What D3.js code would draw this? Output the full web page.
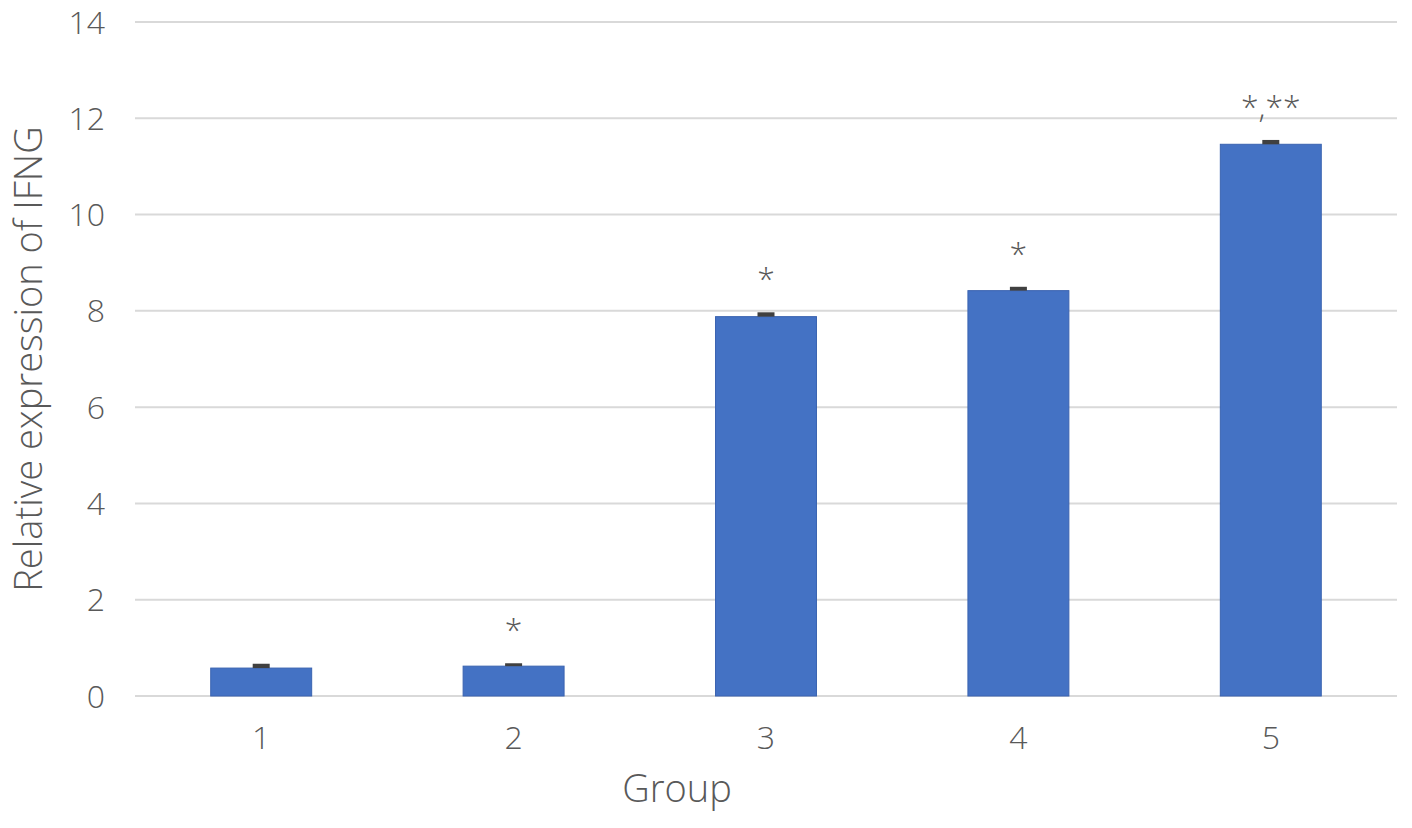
<!DOCTYPE html>
<html><head><meta charset="utf-8">
<script src="https://cdn.jsdelivr.net/npm/d3@7"></script>
<style>body{margin:0;background:#fff}svg{display:block}text{font-family:"Open Sans","Noto Sans",sans-serif;fill:#595959}</style>
</head><body>
<svg id="c" width="1412" height="828"></svg>
<script>
const categories = ["1","2","3","4","5"];
const values = [0.58, 0.62, 7.88, 8.42, 11.46];
const errors = [0.09, 0.06, 0.09, 0.08, 0.09];
const marks = ["", "*", "*", "*", "*,**"];
const yTicks = [0,2,4,6,8,10,12,14];

const svg = d3.select("#c");
const m = {l:135, r:15, t:22, b:132};
const W = 1412, H = 828;
const x = d3.scaleBand().domain(categories).range([m.l, W-m.r]).paddingInner(0.6).paddingOuter(0.3);
const y = d3.scaleLinear().domain([0,14]).range([H-m.b, m.t]);

svg.append("g").selectAll("line").data(yTicks).join("line")
  .attr("x1", m.l).attr("x2", W-m.r)
  .attr("y1", d=>y(d)).attr("y2", d=>y(d))
  .attr("stroke", "#d9d9d9").attr("stroke-width", 2);

svg.append("g").selectAll("text").data(yTicks).join("text")
  .attr("x", 105).attr("y", d=>y(d)).attr("dy","0.36em")
  .attr("text-anchor","end").attr("font-size", 32).attr("font-weight",300)
  .text(d=>d);

svg.append("g").selectAll("rect").data(values).join("rect")
  .attr("x", (d,i)=>x(categories[i])).attr("width", x.bandwidth())
  .attr("y", d=>y(d)).attr("height", d=>y(0)-y(d))
  .attr("fill", "#4472c4").attr("stroke","#3a63b0").attr("stroke-width",1);

svg.append("g").selectAll("rect").data(values).join("rect")
  .attr("x", (d,i)=>x(categories[i])+x.bandwidth()/2-8.5).attr("width", 17)
  .attr("y", (d,i)=>y(d+errors[i])).attr("height", (d,i)=>y(d)-y(d+errors[i]))
  .attr("fill", "#404040");

svg.append("g").selectAll("text").data(values).join("text")
  .attr("x", (d,i)=>x(categories[i])+x.bandwidth()/2)
  .attr("y", (d,i)=>y(d+errors[i])-22)
  .attr("text-anchor","middle").attr("font-size", 32).attr("font-weight",300)
  .text((d,i)=>marks[i]);

svg.append("g").selectAll("text").data(categories).join("text")
  .attr("x", d=>x(d)+x.bandwidth()/2).attr("y", y(0)+53)
  .attr("text-anchor","middle").attr("font-size", 32).attr("font-weight",300)
  .text(d=>d);

svg.append("text").attr("x", 677).attr("y", 802).attr("text-anchor","middle")
  .attr("font-size", 38).attr("font-weight",300).text("Group");

svg.append("text").attr("transform","translate(42,359) rotate(-90)").attr("text-anchor","middle")
  .attr("font-size", 38).attr("font-weight",300).text("Relative expression of IFNG");
</script>
</body></html>
